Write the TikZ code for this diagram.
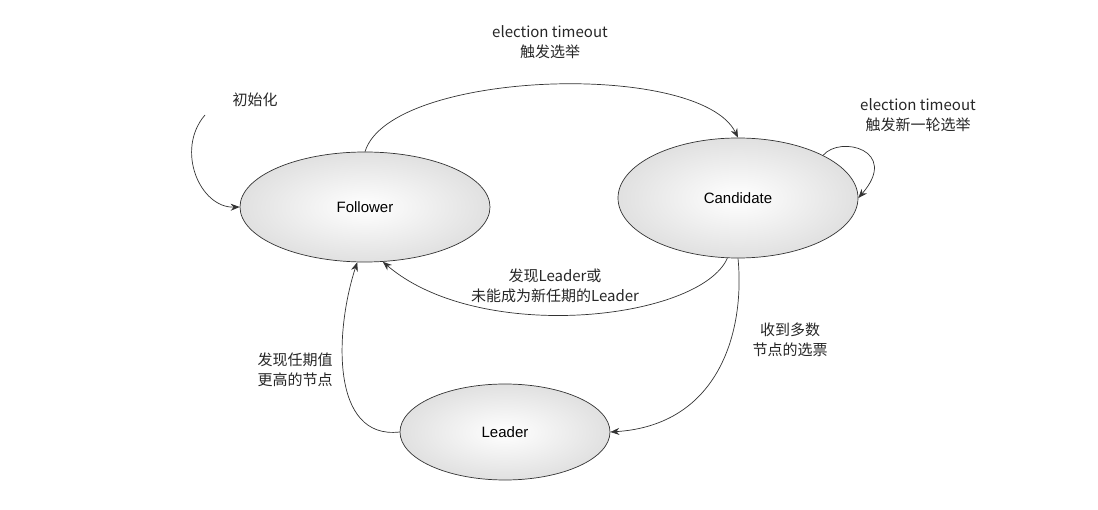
\documentclass[tikz,border=0pt]{standalone}
\usepackage{fontspec}
\setmainfont{Liberation Sans}
\newfontfamily\cjk{Noto Sans CJK SC}
\usetikzlibrary{arrows.meta,shapes.geometric}
\begin{document}
\begin{tikzpicture}[x=1pt,y=-1pt,
  st/.style={ellipse,draw=black!80,line width=0.7pt,inner color=white,outer color=black!12,font=\fontsize{15}{18}\selectfont},
  lab/.style={font=\fontsize{15}{20}\cjk,align=center,text=black!85},
  arr/.style={-{Stealth[length=9pt,width=7pt]},line width=0.7pt,draw=black!80}]
\useasboundingbox (0,0) rectangle (1098,510);
\node[st,minimum width=250pt,minimum height=110pt] (F) at (365,207) {Follower};
\node[st,minimum width=240pt,minimum height=120pt] (C) at (738,198) {Candidate};
\node[st,minimum width=210pt,minimum height=96pt] (L) at (505,432) {Leader};
\coordinate (I) at (205,115);
\node[lab] (li) at (255,100) {初始化};
\draw[arr] (I) .. controls (175,150) and (200,208) .. (F.west);
\node[lab] (lt) at (550,42) {election timeout\\触发选举};
\draw[arr] (F.north) .. controls (390,70) and (700,60) .. (C.north);
\node[lab] (ls) at (918,115) {election timeout\\触发新一轮选举};
\draw[arr] (C.north east) .. controls (840,135) and (900,150) .. (C.east);
\node[lab] (lc) at (555,286) {发现Leader或\\未能成为新任期的Leader};
\draw[arr] (C.-100) .. controls (700,320) and (480,345) .. (F.-72);
\node[lab] (lm) at (790,340) {收到多数\\节点的选票};
\draw[arr] (C.-90) .. controls (745,330) and (720,425) .. (L.east);
\node[lab] (lf) at (295,370) {发现任期值\\更高的节点};
\draw[arr] (L.west) .. controls (330,440) and (335,330) .. (F.-98);
\end{tikzpicture}
\end{document}
